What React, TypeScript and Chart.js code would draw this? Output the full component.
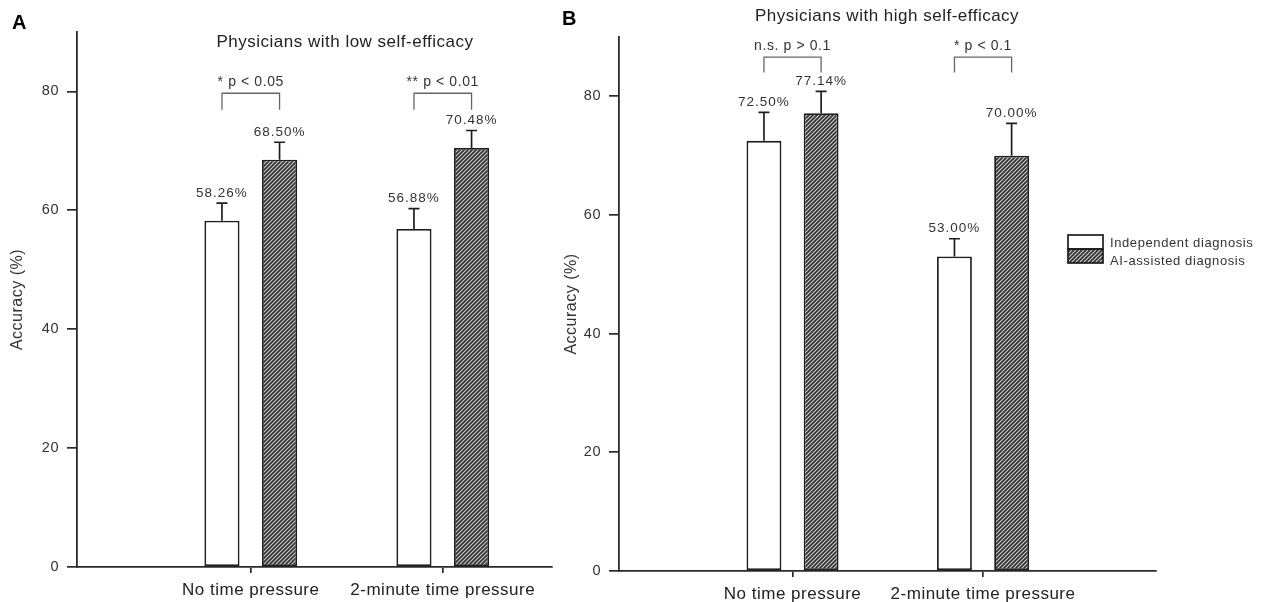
import React, { useEffect, useRef } from 'react';
import { Chart, registerables } from 'chart.js';

Chart.register(...registerables);

const FONT = '"Liberation Sans", Arial, Helvetica, sans-serif';
Chart.defaults.font.family = FONT;

// ---------- data ----------
const categories = ['No time pressure', '2-minute time pressure'];
const seriesNames = ['Independent diagnosis', 'AI-assisted diagnosis'];
const yTickValues = [0, 20, 40, 60, 80];

const lowIndependent = [58.26, 56.88];
const lowAI = [68.5, 70.48];
const lowIndependentErr = [2.95, 3.4];
const lowAIErr = [2.95, 2.95];
const lowSignificance = ['* p < 0.05', '** p < 0.01'];

const highIndependent = [72.5, 53.0];
const highAI = [77.14, 70.0];
const highIndependentErr = [4.8, 3.0];
const highAIErr = [3.7, 5.45];
const highSignificance = ['n.s. p > 0.1', '* p < 0.1'];

const INK = '#1e1e1e';
const TEXT = '#333';

function makeHatch(ctx: CanvasRenderingContext2D) {
  const c = document.createElement('canvas');
  c.width = 4;
  c.height = 4;
  const g = c.getContext('2d')!;
  g.fillStyle = '#333333';
  g.fillRect(0, 0, 4, 4);
  g.strokeStyle = '#cfcfcf';
  g.lineWidth = 1.1;
  g.beginPath();
  g.moveTo(0, 4);
  g.lineTo(4, 0);
  g.moveTo(-1, 1);
  g.lineTo(1, -1);
  g.moveTo(3, 5);
  g.lineTo(5, 3);
  g.stroke();
  return ctx.createPattern(c, 'repeat')!;
}

type Panel = {
  letter: string;
  letterX: number;
  letterY: number;
  title: string;
  titleX: number;
  titleY: number;
  independent: number[];
  ai: number[];
  errors: number[][];
  significance: string[];
  bracket: number[]; // [bottom, top, text] in data units
  padTop: number;
  padRight: number;
  xHeight: number;
  yWidth: number;
  xMin: number;
  xMax: number;
  yTitlePad: number;
  legend?: { x: number; y: number };
};

const panelA: Panel = {
  letter: 'A',
  letterX: 12,
  letterY: 29,
  title: 'Physicians with low self-efficacy',
  titleX: 345,
  titleY: 42,
  independent: lowIndependent,
  ai: lowAI,
  errors: [lowIndependentErr, lowAIErr],
  significance: lowSignificance,
  bracket: [76.9, 79.7, 81.6],
  padTop: 32,
  padRight: 8,
  xHeight: 35,
  yWidth: 77,
  xMin: 0.095,
  xMax: 2.569,
  yTitlePad: 8,
};

const panelB: Panel = {
  letter: 'B',
  letterX: 12,
  letterY: 25,
  title: 'Physicians with high self-efficacy',
  titleX: 337,
  titleY: 16,
  independent: highIndependent,
  ai: highAI,
  errors: [highIndependentErr, highAIErr],
  significance: highSignificance,
  bracket: [84.0, 86.6, 88.4],
  padTop: 37,
  padRight: 106,
  xHeight: 31,
  yWidth: 69,
  xMin: 0.089,
  xMax: 2.908,
  yTitlePad: 12,
  legend: { x: 518, y: 235 },
};

function makePlugin(p: Panel, hatch: CanvasPattern) {
  return {
    id: 'annot' + p.letter,
    beforeDraw(chart: any) {
      chart.ctx.letterSpacing = '0.5px';
    },
    afterDatasetsDraw(chart: any) {
      const ctx: CanvasRenderingContext2D = chart.ctx;
      const ys = chart.scales.y;
      ctx.save();
      // error bars + value labels
      chart.data.datasets.forEach((ds: any, di: number) => {
        const meta = chart.getDatasetMeta(di);
        meta.data.forEach((el: any, i: number) => {
          const v = ds.data[i].y;
          const err = p.errors[di][i];
          const yTop = ys.getPixelForValue(v);
          const yCap = ys.getPixelForValue(v + err);
          ctx.strokeStyle = INK;
          ctx.lineWidth = 1.7;
          ctx.beginPath();
          ctx.moveTo(el.x, yTop);
          ctx.lineTo(el.x, yCap);
          ctx.moveTo(el.x - 5.5, yCap);
          ctx.lineTo(el.x + 5.5, yCap);
          ctx.stroke();
          (ctx as any).letterSpacing = '1px';
          ctx.fillStyle = TEXT;
          ctx.font = '13.5px ' + FONT;
          ctx.textAlign = 'center';
          ctx.textBaseline = 'middle';
          ctx.fillText(v.toFixed(2) + '%', el.x, yCap - 10);
        });
      });
      // significance brackets
      const m0 = chart.getDatasetMeta(0);
      const m1 = chart.getDatasetMeta(1);
      p.significance.forEach((txt, i) => {
        const x1 = m0.data[i].x;
        const x2 = m1.data[i].x;
        const yb = ys.getPixelForValue(p.bracket[0]);
        const yt = ys.getPixelForValue(p.bracket[1]);
        const ytx = ys.getPixelForValue(p.bracket[2]);
        ctx.strokeStyle = '#666';
        ctx.lineWidth = 1.3;
        ctx.beginPath();
        ctx.moveTo(x1, yb);
        ctx.lineTo(x1, yt);
        ctx.lineTo(x2, yt);
        ctx.lineTo(x2, yb);
        ctx.stroke();
        (ctx as any).letterSpacing = '0.6px';
        ctx.fillStyle = TEXT;
        ctx.font = '14px ' + FONT;
        ctx.textAlign = 'center';
        ctx.textBaseline = 'middle';
        ctx.fillText(txt, (x1 + x2) / 2, ytx);
      });
      // panel title
      (ctx as any).letterSpacing = '0.5px';
      ctx.fillStyle = '#222';
      ctx.font = '17px ' + FONT;
      ctx.textAlign = 'center';
      ctx.textBaseline = 'middle';
      ctx.fillText(p.title, p.titleX, p.titleY);
      // panel letter
      (ctx as any).letterSpacing = '0px';
      ctx.fillStyle = '#000';
      ctx.font = 'bold 20px ' + FONT;
      ctx.textAlign = 'left';
      ctx.textBaseline = 'alphabetic';
      ctx.fillText(p.letter, p.letterX, p.letterY);
      // legend
      if (p.legend) {
        const { x, y } = p.legend;
        const w = 35;
        const h = 14;
        ctx.fillStyle = '#fff';
        ctx.fillRect(x, y, w, h);
        ctx.fillStyle = hatch;
        ctx.fillRect(x, y + h, w, h);
        ctx.strokeStyle = INK;
        ctx.lineWidth = 1.7;
        ctx.strokeRect(x, y, w, h);
        ctx.strokeRect(x, y + h, w, h);
        (ctx as any).letterSpacing = '0.6px';
        ctx.fillStyle = TEXT;
        ctx.font = '13px ' + FONT;
        ctx.textAlign = 'left';
        ctx.textBaseline = 'middle';
        ctx.fillText(seriesNames[0], x + 42, y + 8);
        ctx.fillText(seriesNames[1], x + 42, y + 26);
      }
      ctx.restore();
    },
  };
}

function makeConfig(p: Panel, hatch: CanvasPattern): any {
  return {
    type: 'bar',
    data: {
      datasets: [
        {
          label: seriesNames[0],
          data: p.independent.map((v, i) => ({ x: i + 1, y: v })),
          backgroundColor: '#ffffff',
          borderColor: INK,
          borderWidth: 1.8,
          borderSkipped: false,
          categoryPercentage: 0.6,
          barPercentage: 0.61,
        },
        {
          label: seriesNames[1],
          data: p.ai.map((v, i) => ({ x: i + 1, y: v })),
          backgroundColor: hatch,
          borderColor: INK,
          borderWidth: 1.8,
          borderSkipped: false,
          categoryPercentage: 0.6,
          barPercentage: 0.61,
        },
      ],
    },
    options: {
      responsive: false,
      animation: false,
      events: [],
      layout: { padding: { left: 0, top: p.padTop, right: p.padRight, bottom: 0 } },
      scales: {
        x: {
          type: 'linear',
          min: p.xMin,
          max: p.xMax,
          offset: false,
          grid: {
            display: true,
            offset: false,
            drawOnChartArea: false,
            drawTicks: true,
            tickLength: 6,
            color: '#2a2a2a',
            lineWidth: 1.7,
          },
          border: { display: true, color: '#2a2a2a', width: 1.8 },
          afterBuildTicks: (s: any) => {
            s.ticks = categories.map((_, i) => ({ value: i + 1 }));
          },
          afterFit: (s: any) => {
            s.height = p.xHeight;
          },
          ticks: {
            autoSkip: false,
            maxRotation: 0,
            padding: 7,
            color: '#222',
            font: { size: 17, family: FONT },
            callback: (v: number) => categories[Math.round(v) - 1] ?? '',
          },
        },
        y: {
          type: 'linear',
          min: 0,
          max: 90,
          grid: {
            display: true,
            drawOnChartArea: false,
            drawTicks: true,
            tickLength: 10,
            color: '#2a2a2a',
            lineWidth: 1.7,
          },
          border: { display: true, color: '#2a2a2a', width: 1.8 },
          afterBuildTicks: (s: any) => {
            s.ticks = yTickValues.map((v) => ({ value: v }));
          },
          afterFit: (s: any) => {
            s.width = p.yWidth;
          },
          ticks: {
            padding: 8,
            color: TEXT,
            font: { size: 14.5, family: FONT },
          },
          title: {
            display: true,
            text: 'Accuracy (%)',
            color: TEXT,
            font: { size: 16, family: FONT },
            padding: { top: p.yTitlePad, bottom: 0 },
          },
        },
      },
      plugins: {
        legend: { display: false },
        tooltip: { enabled: false },
        title: { display: false },
      },
    },
    plugins: [makePlugin(p, hatch)],
  };
}

export default function App() {
  const refA = useRef<HTMLCanvasElement>(null);
  const refB = useRef<HTMLCanvasElement>(null);

  useEffect(() => {
    const ctxA = refA.current!.getContext('2d')!;
    const ctxB = refB.current!.getContext('2d')!;
    const chartA = new Chart(refA.current!, makeConfig(panelA, makeHatch(ctxA)));
    const chartB = new Chart(refB.current!, makeConfig(panelB, makeHatch(ctxB)));
    return () => {
      chartA.destroy();
      chartB.destroy();
    };
  }, []);

  return (
    <div
      style={{
        position: 'fixed',
        left: 0,
        top: 0,
        width: 1262,
        height: 602,
        background: '#fff',
        overflow: 'hidden',
      }}
    >
      <canvas ref={refA} width={560} height={602} style={{ position: 'absolute', left: 0, top: 0 }} />
      <canvas ref={refB} width={712} height={602} style={{ position: 'absolute', left: 550, top: 0 }} />
    </div>
  );
}
